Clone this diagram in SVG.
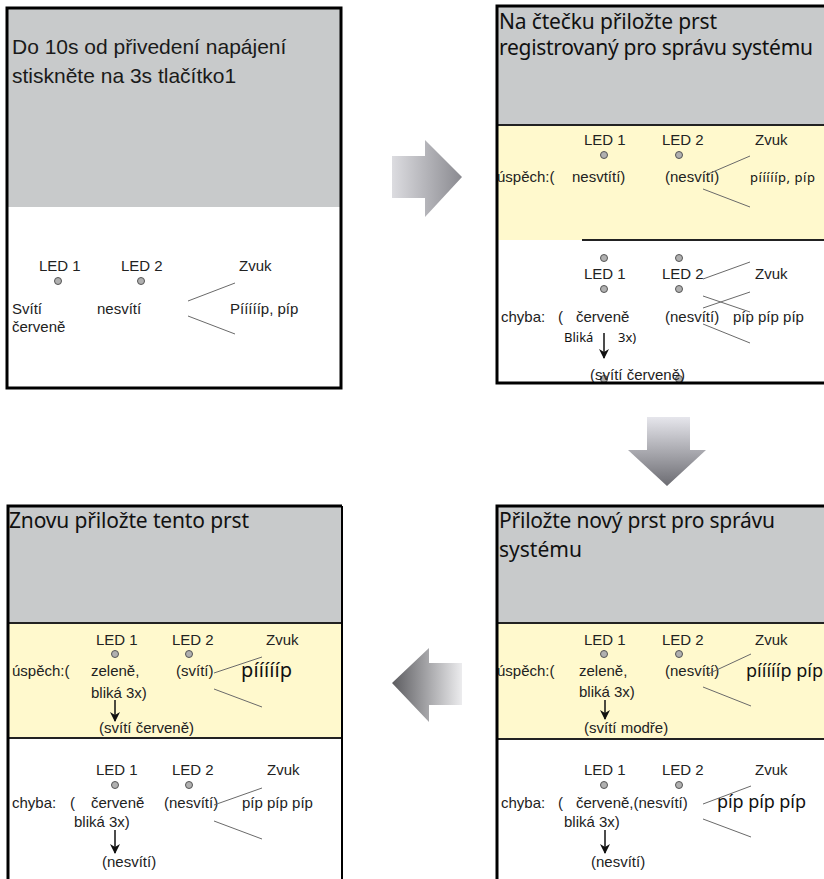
<svg xmlns="http://www.w3.org/2000/svg" width="824" height="879" viewBox="0 0 824 879">
<defs>
<style>
.lbl{font-family:"Liberation Sans",Arial,sans-serif;font-size:15px;fill:#222}
.t1{font-family:"Liberation Sans",Arial,sans-serif;font-size:21px;fill:#1a1a1a}
.ttl{font-family:"Noto Sans","Open Sans",sans-serif;font-size:21px;fill:#111}
.sm{font-family:"Noto Sans","Open Sans",sans-serif;font-size:13px;fill:#111}
.bg{font-family:"Noto Sans","Open Sans",sans-serif;font-size:18px;fill:#111}
.gray{fill:#c8cacb}
.yel{fill:#fff9cd}
.led{fill:#b0b0b0;stroke:#555;stroke-width:1}
.snd{stroke:#6a6a6a;stroke-width:1;fill:none}
.dv{stroke:#222;stroke-width:2}
.bd{stroke:#000;stroke-width:3;fill:none}
.ar{stroke:#111;stroke-width:1.5;fill:none;marker-end:url(#ah)}
</style>
<marker id="ah" viewBox="0 0 10 10" refX="9" refY="5" markerWidth="14" markerHeight="10" markerUnits="userSpaceOnUse" orient="auto">
<path d="M0,0 L10,5 L0,10 L3,5 z" fill="#111"/>
</marker>
<linearGradient id="gR" x1="0" y1="0" x2="1" y2="0">
<stop offset="0" stop-color="#dcdce0"/><stop offset="1" stop-color="#8a8a90"/>
</linearGradient>
<linearGradient id="gD" x1="0" y1="0" x2="0" y2="1">
<stop offset="0" stop-color="#e6e6ec"/><stop offset="1" stop-color="#6c6c72"/>
</linearGradient>
<linearGradient id="gL" x1="0" y1="0" x2="1" y2="0">
<stop offset="0" stop-color="#5c5c60"/><stop offset="1" stop-color="#ececee"/>
</linearGradient>
</defs>
<rect width="824" height="879" fill="#fff"/>

<g id="panel1">
<rect class="gray" x="7" y="8" width="334" height="199"/>
<text class="t1" x="12" y="54">Do 10s od přivedení napájení</text>
<text class="t1" x="12" y="83">stiskněte na 3s tlačítko1</text>
<text class="lbl" x="39" y="271">LED 1</text>
<text class="lbl" x="121" y="271">LED 2</text>
<text class="lbl" x="239" y="271">Zvuk</text>
<circle class="led" cx="58" cy="281" r="3.5"/>
<circle class="led" cx="141" cy="281" r="3.5"/>
<text class="lbl" x="12" y="314">Svítí</text>
<text class="lbl" x="12" y="332">červeně</text>
<text class="lbl" x="97" y="314">nesvítí</text>
<text class="lbl" x="230" y="314">Píííííp, píp</text>
<rect class="bd" x="7" y="8" width="334" height="380"/>
</g>

<g id="panel2">
<rect class="gray" x="497" y="6" width="327" height="119"/>
<rect class="yel" x="497" y="125" width="327" height="115"/>
<line class="dv" x1="497" y1="125" x2="824" y2="125"/>
<line class="dv" x1="582" y1="240" x2="824" y2="240"/>
<text class="ttl" x="499" y="29" textLength="218">Na čtečku přiložte prst</text>
<text class="ttl" x="499" y="55" textLength="314">registrovaný pro správu systému</text>
<text class="lbl" x="584" y="145">LED 1</text>
<text class="lbl" x="662" y="145">LED 2</text>
<text class="lbl" x="755" y="145">Zvuk</text>
<circle class="led" cx="604" cy="155" r="3.5"/>
<circle class="led" cx="679" cy="155" r="3.5"/>
<text class="lbl" x="497" y="182">úspěch:(</text>
<text class="lbl" x="572" y="182">nesvtítí)</text>
<text class="lbl" x="665" y="182">(nesvítí)</text>
<text class="sm" x="750" y="182" textLength="65">píííííp, píp</text>
<circle class="led" cx="604" cy="258" r="3.5"/>
<circle class="led" cx="679" cy="258" r="3.5"/>
<text class="lbl" x="584" y="279">LED 1</text>
<text class="lbl" x="662" y="279">LED 2</text>
<text class="lbl" x="755" y="279">Zvuk</text>
<circle class="led" cx="604" cy="289" r="3.5"/>
<circle class="led" cx="679" cy="289" r="3.5"/>
<text class="lbl" x="501" y="322">chyba:</text>
<text class="lbl" x="558" y="322">(</text>
<text class="lbl" x="576" y="322">červeně</text>
<text class="lbl" x="665" y="322">(nesvítí)</text>
<text class="lbl" x="733" y="322">píp píp píp</text>
<text class="sm" x="564" y="342">Bliká</text>
<text class="sm" x="618" y="342">3x)</text>
<circle class="led" cx="604" cy="379" r="3.5"/>
<circle class="led" cx="679" cy="379" r="3.5"/>
<text class="lbl" x="590" y="380">(svítí červeně)</text>
<polyline class="bd" points="824,6 497,6 497,383 824,383"/>
</g>

<g id="panel3">
<rect class="gray" x="8" y="506" width="334" height="117"/>
<rect class="yel" x="8" y="623" width="334" height="115"/>
<line class="dv" x1="8" y1="623" x2="342" y2="623"/>
<line class="dv" x1="8" y1="738" x2="342" y2="738"/>
<text class="ttl" x="9" y="528" textLength="240">Znovu přiložte tento prst</text>
<text class="lbl" x="96" y="645">LED 1</text>
<text class="lbl" x="172" y="645">LED 2</text>
<text class="lbl" x="266" y="645">Zvuk</text>
<circle class="led" cx="115" cy="654" r="3.5"/>
<circle class="led" cx="189" cy="654" r="3.5"/>
<text class="lbl" x="12" y="676">úspěch:(</text>
<text class="lbl" x="91" y="676">zeleně,</text>
<text class="lbl" x="176" y="676">(svítí)</text>
<text class="bg" x="241" y="677" style="font-size:20px" textLength="51">píííííp</text>
<text class="lbl" x="91" y="698">bliká 3x)</text>
<text class="lbl" x="99" y="733">(svítí červeně)</text>
<text class="lbl" x="96" y="775">LED 1</text>
<text class="lbl" x="172" y="775">LED 2</text>
<text class="lbl" x="267" y="775">Zvuk</text>
<circle class="led" cx="115" cy="785" r="3.5"/>
<circle class="led" cx="189" cy="785" r="3.5"/>
<text class="lbl" x="12" y="808">chyba:</text>
<text class="lbl" x="70" y="808">(</text>
<text class="lbl" x="91" y="808">červeně</text>
<text class="lbl" x="164" y="808">(nesvítí)</text>
<text class="lbl" x="242" y="808">píp píp píp</text>
<text class="lbl" x="74" y="827">bliká 3x)</text>
<text class="lbl" x="102" y="867">(nesvítí)</text>
<polyline class="bd" points="8,879 8,506 342,506"/>
<line x1="342" y1="506" x2="342" y2="879" stroke="#000" stroke-width="2"/>
</g>

<g id="panel4">
<rect class="gray" x="497" y="506" width="327" height="117"/>
<rect class="yel" x="497" y="623" width="327" height="116"/>
<line class="dv" x1="497" y1="623" x2="824" y2="623"/>
<line class="dv" x1="497" y1="739" x2="824" y2="739"/>
<text class="ttl" x="499" y="528" textLength="276">Přiložte nový prst pro správu</text>
<text class="ttl" x="499" y="557">systému</text>
<text class="lbl" x="584" y="645">LED 1</text>
<text class="lbl" x="662" y="645">LED 2</text>
<text class="lbl" x="755" y="645">Zvuk</text>
<circle class="led" cx="604" cy="654" r="3.5"/>
<circle class="led" cx="679" cy="654" r="3.5"/>
<text class="lbl" x="497" y="676">úspěch:(</text>
<text class="lbl" x="579" y="676">zeleně,</text>
<text class="lbl" x="665" y="676">(nesvítí)</text>
<text class="bg" x="746" y="677" textLength="77">píííííp píp</text>
<text class="lbl" x="579" y="697">bliká 3x)</text>
<text class="lbl" x="584" y="733">(svítí modře)</text>
<text class="lbl" x="584" y="775">LED 1</text>
<text class="lbl" x="662" y="775">LED 2</text>
<text class="lbl" x="755" y="775">Zvuk</text>
<circle class="led" cx="604" cy="785" r="3.5"/>
<circle class="led" cx="679" cy="785" r="3.5"/>
<text class="lbl" x="501" y="808">chyba:</text>
<text class="lbl" x="558" y="808">(</text>
<text class="lbl" x="576" y="808">červeně,(nesvítí)</text>
<text class="bg" x="717" y="808" textLength="89">píp píp píp</text>
<text class="lbl" x="564" y="827">bliká 3x)</text>
<text class="lbl" x="591" y="867">(nesvítí)</text>
<polyline class="bd" points="497,879 497,506 824,506"/>
</g>

<g id="connectors">
<polygon points="392,156 425,156 425,140 462,177 425,217 425,198 392,198" fill="url(#gR)"/>
<polygon points="647,417 690,417 690,450 706,450 667,486 628,450 647,450" fill="url(#gD)"/>
<polygon points="392,683 429,648 429,663 462,663 462,705 429,705 429,722" fill="url(#gL)"/>
<line class="snd" x1="188" y1="301" x2="235" y2="283"/>
<line class="snd" x1="188" y1="316" x2="235" y2="334"/>
<line class="snd" x1="708" y1="174" x2="750" y2="156"/>
<line class="snd" x1="703" y1="189" x2="750" y2="207"/>
<line class="snd" x1="703" y1="279" x2="750" y2="262"/>
<line class="snd" x1="703" y1="296" x2="750" y2="312"/>
<line class="snd" x1="703" y1="308" x2="750" y2="292"/>
<line class="snd" x1="703" y1="324" x2="750" y2="343"/>
<line class="snd" x1="214" y1="673" x2="262" y2="657"/>
<line class="snd" x1="214" y1="689" x2="262" y2="707"/>
<line class="snd" x1="214" y1="805" x2="262" y2="788"/>
<line class="snd" x1="214" y1="821" x2="262" y2="839"/>
<line class="snd" x1="708" y1="674" x2="751" y2="654"/>
<line class="snd" x1="703" y1="687" x2="751" y2="706"/>
<line class="snd" x1="703" y1="804" x2="751" y2="786"/>
<line class="snd" x1="703" y1="819" x2="751" y2="837"/>
<line class="ar" x1="604" y1="333" x2="604" y2="358"/>
<line class="ar" x1="115" y1="700" x2="115" y2="721"/>
<line class="ar" x1="115" y1="830" x2="115" y2="853"/>
<line class="ar" x1="605" y1="700" x2="605" y2="719"/>
<line class="ar" x1="605" y1="830" x2="605" y2="853"/>
</g>
</svg>
